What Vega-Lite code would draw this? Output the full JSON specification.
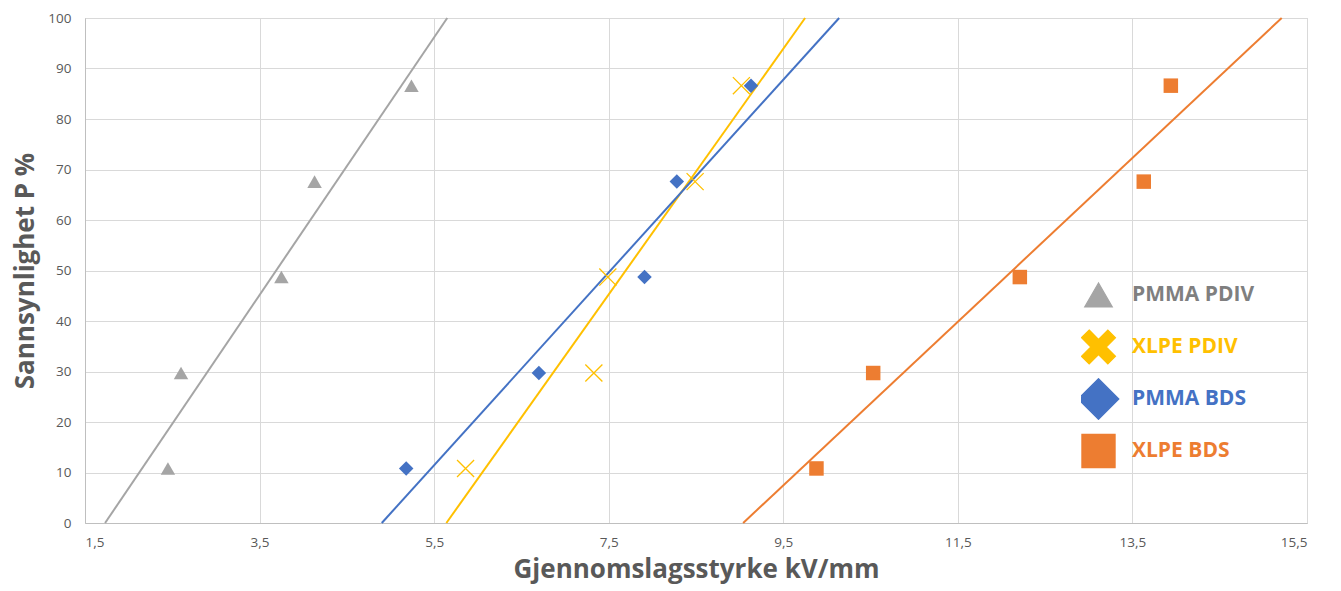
{
  "$schema": "https://vega.github.io/schema/vega-lite/v6.json",
  "width": 1222,
  "height": 505,
  "autosize": {"type": "none"},
  "padding": {"left": 85, "top": 18, "right": 34, "bottom": 68},
  "background": "white",
  "config": {
    "view": {"stroke": "#c8c8c8", "strokeWidth": 1},
    "font": "Open Sans",
    "axis": {
      "gridColor": "#d9d9d9",
      "gridWidth": 1,
      "domainColor": "#bfbfbf",
      "ticks": false,
      "labelColor": "#595959",
      "labelFontSize": 13.5,
      "labelFont": "Open Sans",
      "titleColor": "#595959",
      "titleFont": "Open Sans",
      "titleFontWeight": "bold"
    }
  },
  "datasets": {
    "points": [
      {"series": "PMMA PDIV", "x": 2.45, "p": 10.8},
      {"series": "PMMA PDIV", "x": 2.6, "p": 29.7},
      {"series": "PMMA PDIV", "x": 3.75, "p": 48.7},
      {"series": "PMMA PDIV", "x": 4.13, "p": 67.6},
      {"series": "PMMA PDIV", "x": 5.24, "p": 86.6},
      {"series": "XLPE PDIV", "x": 5.86, "p": 10.8},
      {"series": "XLPE PDIV", "x": 7.33, "p": 29.7},
      {"series": "XLPE PDIV", "x": 7.49, "p": 48.7},
      {"series": "XLPE PDIV", "x": 8.49, "p": 67.6},
      {"series": "XLPE PDIV", "x": 9.02, "p": 86.6},
      {"series": "PMMA BDS", "x": 5.18, "p": 10.8},
      {"series": "PMMA BDS", "x": 6.7, "p": 29.7},
      {"series": "PMMA BDS", "x": 7.91, "p": 48.7},
      {"series": "PMMA BDS", "x": 8.28, "p": 67.6},
      {"series": "PMMA BDS", "x": 9.13, "p": 86.6},
      {"series": "XLPE BDS", "x": 9.88, "p": 10.8},
      {"series": "XLPE BDS", "x": 10.53, "p": 29.7},
      {"series": "XLPE BDS", "x": 12.21, "p": 48.7},
      {"series": "XLPE BDS", "x": 13.63, "p": 67.6},
      {"series": "XLPE BDS", "x": 13.94, "p": 86.6}
    ],
    "trend": [
      {"series": "PMMA PDIV", "x": 1.73, "p": 0},
      {"series": "PMMA PDIV", "x": 5.65, "p": 100},
      {"series": "XLPE PDIV", "x": 5.64, "p": 0},
      {"series": "XLPE PDIV", "x": 9.75, "p": 100},
      {"series": "PMMA BDS", "x": 4.9, "p": 0},
      {"series": "PMMA BDS", "x": 10.14, "p": 100},
      {"series": "XLPE BDS", "x": 9.04, "p": 0},
      {"series": "XLPE BDS", "x": 15.21, "p": 100}
    ]
  },
  "encoding": {
    "x": {
      "field": "x",
      "type": "quantitative",
      "scale": {"domain": [1.5, 15.5], "nice": false, "zero": false},
      "axis": {
        "values": [1.5, 3.5, 5.5, 7.5, 9.5, 11.5, 13.5, 15.5],
        "labelExpr": "replace(format(datum.value, '.1f'), '.', ',')",
        "labelPadding": 12,
        "title": "Gjennomslagsstyrke kV/mm",
        "titleFontSize": 26,
        "titlePadding": 8
      }
    },
    "y": {
      "field": "p",
      "type": "quantitative",
      "scale": {"domain": [0, 100], "nice": false},
      "axis": {
        "values": [0, 10, 20, 30, 40, 50, 60, 70, 80, 90, 100],
        "labelPadding": 14,
        "title": "Sannsynlighet P %",
        "titleFontSize": 26,
        "titlePadding": 9
      }
    },
    "color": {
      "field": "series",
      "type": "nominal",
      "scale": {
        "domain": ["PMMA PDIV", "XLPE PDIV", "PMMA BDS", "XLPE BDS"],
        "range": ["#a5a5a5", "#ffc000", "#4472c4", "#ed7d31"]
      },
      "legend": {
        "orient": "none",
        "legendX": 996,
        "legendY": 256,
        "title": null,
        "padding": 0,
        "symbolSize": 1100,
        "clipHeight": 42,
        "rowPadding": 10,
        "labelOffset": 16,
        "labelFont": "Open Sans",
        "labelFontSize": 21,
        "labelFontWeight": "bold",
        "labelLimit": 300,
        "encode": {
          "symbols": {
            "update": {
              "size": {"signal": "datum.value === 'PMMA PDIV' ? 760 : datum.value === 'XLPE PDIV' ? 1150 : datum.value === 'PMMA BDS' ? 1650 : 1100"},
              "fill": {"signal": "datum.value === 'PMMA PDIV' ? '#d0d0d0' : datum.value === 'XLPE PDIV' ? '#ffc000' : datum.value === 'PMMA BDS' ? '#4472c4' : '#ed7d31'"},
              "stroke": {"signal": "datum.value === 'PMMA PDIV' ? '#a5a5a5' : datum.value === 'XLPE PDIV' ? '#d9a300' : datum.value === 'PMMA BDS' ? '#3a62a8' : '#c0622a'"},
              "strokeWidth": {"value": 1.2},
              "opacity": {"value": 1}
            }
          },
          "labels": {
            "update": {
              "fill": {"signal": "datum.value === 'PMMA PDIV' ? '#7f7f7f' : datum.value === 'XLPE PDIV' ? '#ffc000' : datum.value === 'PMMA BDS' ? '#4472c4' : '#ed7d31'"}
            }
          }
        }
      }
    }
  },
  "layer": [
    {
      "data": {"name": "trend"},
      "mark": {"type": "line", "strokeWidth": 2},
      "encoding": {
        "detail": {"field": "series"}
      }
    },
    {
      "data": {"name": "points"},
      "transform": [{"filter": "datum.series !== 'XLPE PDIV'"}],
      "mark": {"type": "point", "filled": true, "size": 210, "opacity": 1},
      "encoding": {
        "shape": {
          "field": "series",
          "type": "nominal",
          "scale": {
            "domain": ["PMMA PDIV", "XLPE PDIV", "PMMA BDS", "XLPE BDS"],
            "range": ["triangle-up", "M-0.55,-1L0,-0.45L0.55,-1L1,-0.55L0.45,0L1,0.55L0.55,1L0,0.45L-0.55,1L-1,0.55L-0.45,0L-1,-0.55Z", "diamond", "square"]
          }
        }
      }
    },
    {
      "data": {"name": "points"},
      "transform": [{"filter": "datum.series === 'XLPE PDIV'"}],
      "mark": {"type": "point", "filled": false, "strokeWidth": 1.3, "size": 220, "opacity": 1, "shape": "M-1.15,-1.15L1.15,1.15M1.15,-1.15L-1.15,1.15"}
    }
  ]
}
